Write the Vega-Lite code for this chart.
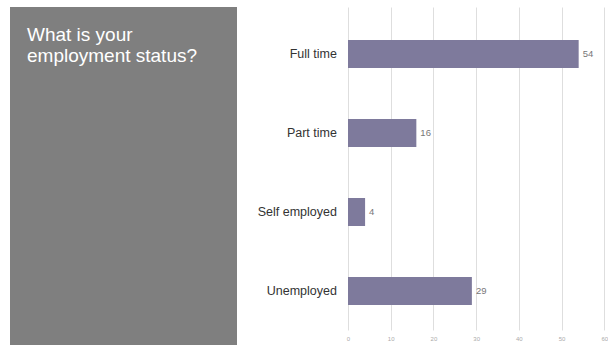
{
  "$schema": "https://vega.github.io/schema/vega-lite/v6.json",
  "padding": {"left": 10, "top": 7, "right": 0, "bottom": 0},
  "background": "white",
  "spacing": 20,
  "config": {"view": {"stroke": null}, "font": "Liberation Sans"},
  "hconcat": [
    {
      "width": 227,
      "height": 338,
      "view": {"fill": "#7f7f7f", "stroke": null},
      "title": {
        "text": ["What is your", "employment status?"],
        "anchor": "start",
        "frame": "group",
        "orient": "top",
        "offset": -59,
        "dx": 17,
        "color": "#ffffff",
        "fontSize": 19,
        "fontWeight": "normal",
        "lineHeight": 20.6,
        "font": "Liberation Sans"
      },
      "data": {"values": [{"a": 1}]},
      "mark": {"type": "point", "opacity": 0},
      "encoding": {}
    },
    {
      "width": 256.3,
      "height": 323,
      "data": {
        "values": [
          {"status": "Full time", "count": 54},
          {"status": "Part time", "count": 16},
          {"status": "Self employed", "count": 4},
          {"status": "Unemployed", "count": 29}
        ]
      },
      "encoding": {
        "y": {
          "field": "status",
          "type": "nominal",
          "sort": null,
          "scale": {"paddingInner": 0.645, "paddingOuter": 0.3668, "align": 0.569},
          "axis": {
            "title": null,
            "ticks": false,
            "domain": false,
            "labelFontSize": 12.5,
            "labelColor": "#333333",
            "labelPadding": 11.6,
            "labelFont": "Liberation Sans"
          }
        },
        "x": {
          "field": "count",
          "type": "quantitative",
          "scale": {"domain": [0, 60], "nice": false},
          "axis": {
            "title": null,
            "values": [0, 10, 20, 30, 40, 50, 60],
            "grid": true,
            "gridColor": "#dedede",
            "domain": false,
            "ticks": false,
            "labelFlush": false,
            "labelFontSize": 6,
            "labelColor": "#aaaaaa",
            "labelPadding": 5
          }
        }
      },
      "layer": [
        {"mark": {"type": "bar", "color": "#7e7a9c"}},
        {
          "mark": {"type": "text", "align": "left", "dx": 4, "fontSize": 9.5, "color": "#777777"},
          "encoding": {"text": {"field": "count", "type": "quantitative"}}
        }
      ]
    }
  ]
}
